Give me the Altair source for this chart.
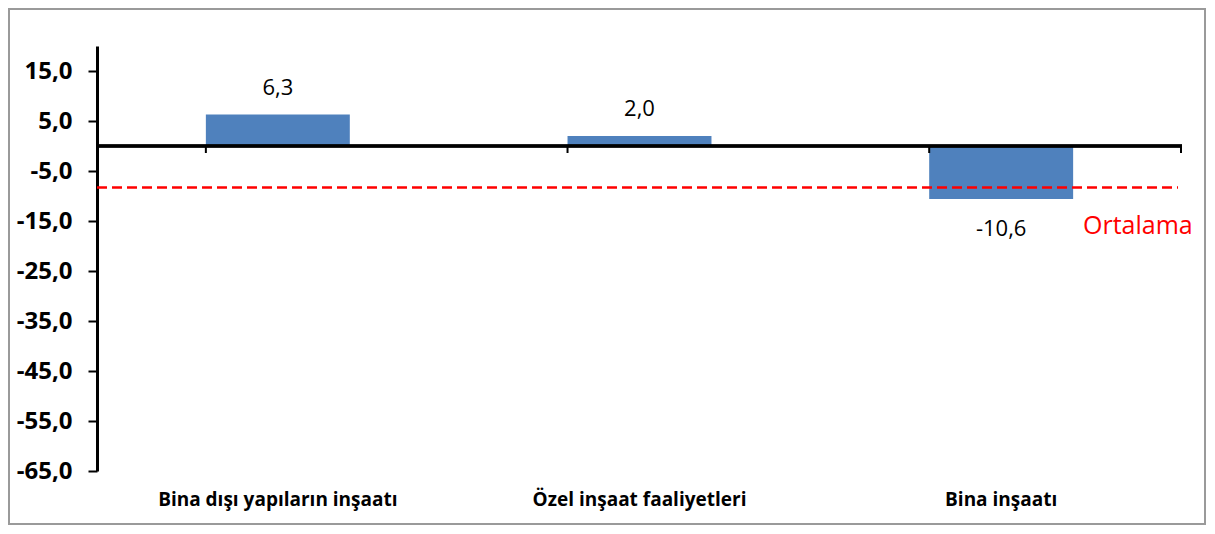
import altair as alt
import pandas as pd

categories = ["Bina dışı yapıların inşaatı", "Özel inşaat faaliyetleri", "Bina inşaatı"]
values = [6.3, 2.0, -10.6]
labels = ["6,3", "2,0", "-10,6"]
average = -8.3
avg_label = "Ortalama"
y_ticks = [-65, -55, -45, -35, -25, -15, -5, 5, 15]
y_domain = [-65, 20]

W, H = 1085, 425
FONT = "Open Sans"
df = pd.DataFrame({"cat": categories, "value": values, "label": labels})

x_axis = alt.Axis(title=None, labelAngle=0, domain=False, ticks=False,
                  labelFont=FONT, labelFontWeight="bold", labelFontSize=19,
                  labelColor="black", labelPadding=19, labelLimit=0)
x_scale = alt.Scale(paddingInner=0.602, paddingOuter=0.301)
y_scale = alt.Scale(domain=y_domain, nice=False, zero=False)
y_axis = alt.Axis(title=None, values=y_ticks, grid=False,
                  labelExpr="(datum.value < 0 ? '-' : '') + replace(format(abs(datum.value), '.1f'), '.', ',')",
                  labelFont=FONT, labelFontWeight="bold", labelFontSize=24,
                  labelColor="black", labelPadding=16, labelLimit=0,
                  tickSize=9, tickWidth=2, tickColor="black",
                  domainWidth=3, domainColor="black")

base = alt.Chart(df)

bars = base.mark_bar(color="#4F81BD").encode(
    x=alt.X("cat:N", sort=categories, scale=x_scale, axis=x_axis),
    y=alt.Y("value:Q", scale=y_scale, axis=y_axis),
    y2=alt.datum(0),
)

zero_line = base.mark_rule(color="black", strokeWidth=3).encode(
    x=alt.value(0), x2=alt.value(W), y=alt.datum(0)
)

tick_marks = base.mark_rule(color="black", strokeWidth=2).encode(
    x=alt.X("cat:N", sort=categories, scale=x_scale, axis=x_axis, bandPosition=0),
    y=alt.datum(0), y2=alt.datum(-1.4),
)
end_tick = base.mark_rule(color="black", strokeWidth=2).encode(
    x=alt.value(W - 1), y=alt.datum(0), y2=alt.datum(-1.4)
)

txt_pos = base.transform_filter("datum.value >= 0").mark_text(
    font=FONT, fontSize=22, color="black", dy=-27, baseline="middle"
).encode(
    x=alt.X("cat:N", sort=categories, scale=x_scale, axis=x_axis),
    y=alt.Y("value:Q", scale=y_scale, axis=y_axis),
    text="label:N",
)
txt_neg = base.transform_filter("datum.value < 0").mark_text(
    font=FONT, fontSize=22, color="black", dy=30, baseline="middle"
).encode(
    x=alt.X("cat:N", sort=categories, scale=x_scale, axis=x_axis),
    y=alt.Y("value:Q", scale=y_scale, axis=y_axis),
    text="label:N",
)

avg_df = pd.DataFrame({"avg": [average], "name": [avg_label]})
avg_line = alt.Chart(avg_df).mark_rule(color="#FF0000", strokeWidth=2.5, strokeDash=[10, 5]).encode(
    x=alt.value(0), x2=alt.value(W - 4), y=alt.Y("avg:Q", scale=y_scale, axis=y_axis)
)
avg_text = alt.Chart(avg_df).mark_text(
    font=FONT, fontSize=25, color="#FF0000", align="left", baseline="middle", dy=38
).encode(
    x=alt.value(W - 99), y=alt.Y("avg:Q", scale=y_scale, axis=y_axis), text="name:N"
)

frame = alt.Chart(avg_df).mark_rect(fill=None, stroke="#9a9a9a", strokeWidth=2).encode(
    x=alt.value(-88), x2=alt.value(W + 23), y=alt.value(-37), y2=alt.value(H + 53)
)

chart = alt.layer(
    frame, bars, zero_line, tick_marks, end_tick, avg_line, txt_pos, txt_neg, avg_text
).properties(
    width=W, height=H,
    autosize=alt.AutoSizeParams(type="none"),
    padding={"left": 89, "top": 38, "right": 25, "bottom": 55},
).configure_view(stroke=None)

chart.save("out.html", embed_options={"renderer": "svg", "actions": False})
